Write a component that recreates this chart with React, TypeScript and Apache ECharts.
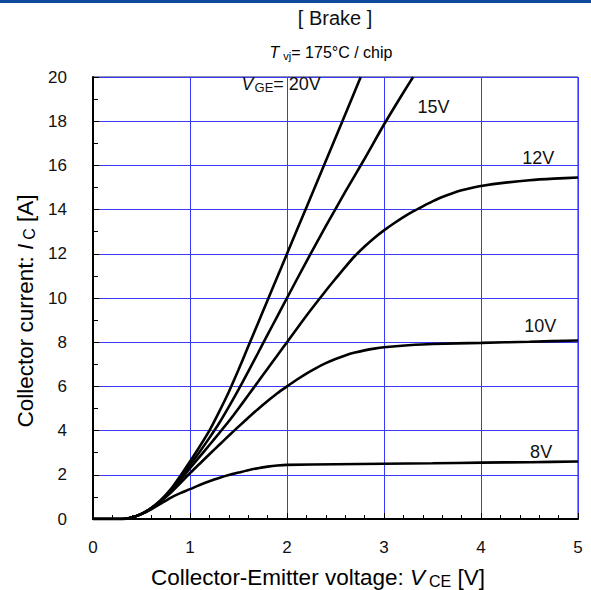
import React, { useEffect, useRef } from 'react';
import * as echarts from 'echarts';

const FONT = '"Liberation Sans", Arial, sans-serif';

// Axis ranges / tick definitions
const X_MIN = 0;
const X_MAX = 5;
const X_STEP = 1;
const Y_MIN = 0;
const Y_MAX = 20;
const Y_STEP = 2;

// Output characteristic curves: [VCE (V), IC (A)]
const curve8V: number[][] = [
  [0, 0], [0.3, 0], [0.4, 0.07], [0.5, 0.22], [0.6, 0.44], [0.7, 0.7], [0.8, 0.96],
  [0.9, 1.17], [1.0, 1.35], [1.1, 1.54], [1.2, 1.71], [1.3, 1.86], [1.4, 1.99],
  [1.5, 2.1], [1.6, 2.21], [1.7, 2.3], [1.8, 2.37], [1.9, 2.42], [2.0, 2.45],
  [2.5, 2.48], [3.0, 2.5], [3.5, 2.52], [4.0, 2.55], [4.5, 2.57], [5.0, 2.6],
];
const curve10V: number[][] = [
  [0, 0], [0.3, 0], [0.4, 0.07], [0.5, 0.23], [0.6, 0.47], [0.7, 0.8], [0.8, 1.18],
  [0.9, 1.62], [1.0, 2.08], [1.1, 2.5], [1.2, 2.93], [1.3, 3.35], [1.4, 3.77],
  [1.5, 4.18], [1.6, 4.58], [1.7, 4.97], [1.8, 5.34], [1.9, 5.69], [2.0, 6.0],
  [2.1, 6.3], [2.2, 6.58], [2.3, 6.83], [2.4, 7.05], [2.5, 7.24], [2.6, 7.4],
  [2.7, 7.53], [2.8, 7.63], [2.9, 7.71], [3.0, 7.77], [3.25, 7.86],
  [3.5, 7.92], [4.0, 7.97], [4.5, 8.02], [5.0, 8.08],
];
const curve12V: number[][] = [
  [0, 0], [0.3, 0], [0.4, 0.07], [0.5, 0.23], [0.6, 0.48], [0.7, 0.82], [0.8, 1.24],
  [0.9, 1.76], [1.0, 2.3], [1.1, 2.82], [1.2, 3.35], [1.3, 3.88], [1.4, 4.42],
  [1.5, 5.0], [1.6, 5.6], [1.7, 6.2], [1.8, 6.8], [1.9, 7.4], [2.0, 8.0],
  [2.2, 9.2], [2.4, 10.33], [2.5, 10.87], [2.6, 11.4], [2.7, 11.9], [2.8, 12.33],
  [2.9, 12.72], [3.0, 13.06], [3.1, 13.37], [3.2, 13.66], [3.3, 13.92],
  [3.4, 14.15], [3.5, 14.37], [3.6, 14.57], [3.7, 14.73], [3.8, 14.87],
  [3.9, 14.98], [4.0, 15.07], [4.25, 15.22], [4.5, 15.33], [4.75, 15.4], [5.0, 15.45],
];
const curve15V: number[][] = [
  [0, 0], [0.3, 0], [0.4, 0.07], [0.5, 0.23], [0.6, 0.49], [0.7, 0.84], [0.8, 1.28],
  [0.9, 1.84], [1.0, 2.44], [1.1, 3.04], [1.2, 3.67], [1.3, 4.33], [1.4, 5.07],
  [1.5, 5.85], [1.6, 6.67], [1.7, 7.5], [1.8, 8.34], [1.9, 9.17], [2.0, 10.0],
  [2.2, 11.65], [2.4, 13.25], [2.6, 14.8], [2.8, 16.3], [3.0, 17.85], [3.2, 19.3],
  [3.3, 20.0],
];
const curve20V: number[][] = [
  [0, 0], [0.3, 0], [0.4, 0.07], [0.5, 0.23], [0.6, 0.5], [0.7, 0.86], [0.8, 1.34],
  [0.9, 1.95], [1.0, 2.6], [1.1, 3.28], [1.2, 4.0], [1.3, 4.85], [1.4, 5.75],
  [1.5, 6.75], [1.6, 7.8], [1.7, 8.85], [1.8, 9.9], [1.9, 10.95], [2.0, 12.0],
  [2.2, 14.1], [2.4, 16.2], [2.6, 18.3], [2.76, 20.0],
];

const curves = [curve8V, curve10V, curve12V, curve15V, curve20V];
const curveNames = ['8V', '10V', '12V', '15V', '20V'];

// Curve annotations (data coordinates)
const labelX = [1.94, 3.51, 4.59, 4.61, 4.62];
const labelY = [19.7, 18.65, 16.35, 8.73, 3.05];
const labelText = ['{it|V}{sub|GE}{n|= 20V}', '{n|15V}', '{n|12V}', '{n|10V}', '{n|8V}'];

const titleText = '[ Brake ]';
const subtitleRich = '{it|T}{sub|vj}{n|= 175°C / chip}';
const xName = '{n|Collector-Emitter voltage: }{it|V}{sub|CE}{n| [V]}';
const yName = '{n|Collector current: }{it|I}{sub|C}{n| [A]}';

export default function App() {
  const ref = useRef<HTMLDivElement>(null);
  useEffect(() => {
    if (!ref.current) return;
    const chart = echarts.init(ref.current, undefined, { renderer: 'svg' });
    const rich16 = {
      n: { fontSize: 16, fontFamily: FONT, color: '#111' },
      it: { fontSize: 16, fontFamily: FONT, fontStyle: 'italic', color: '#111' },
      sub: { fontSize: 11, fontFamily: FONT, color: '#111', padding: [7, 0, 0, 4] },
    };
    const rich18 = {
      n: { fontSize: 18, fontFamily: FONT, color: '#111' },
      it: { fontSize: 18, fontFamily: FONT, fontStyle: 'italic', color: '#111' },
      sub: { fontSize: 13, fontFamily: FONT, color: '#111', padding: [7, 0, 0, 1] },
    };
    const rich23 = {
      n: { fontSize: 22.5, fontFamily: FONT, color: '#111' },
      it: { fontSize: 22.5, fontFamily: FONT, fontStyle: 'italic', color: '#111' },
      sub: { fontSize: 16, fontFamily: FONT, color: '#111', padding: [8, 0, 0, 4] },
    };
    const option: any = {
      animation: false,
      backgroundColor: '#fff',
      grid: {
        left: 93, right: 13, top: 77, bottom: 71,
        show: true, borderColor: '#20205a', borderWidth: 1, backgroundColor: 'transparent',
      },
      graphic: [
        { type: 'rect', left: 0, top: 0, shape: { x: 0, y: 0, width: 591, height: 3 }, style: { fill: '#0d4a9c' }, silent: true },
        {
          type: 'text', x: 335, y: 18,
          style: { text: titleText, fontSize: 20, fontFamily: FONT, fill: '#111', align: 'center', verticalAlign: 'middle' },
        },
        {
          type: 'text', x: 331, y: 52,
          style: { text: subtitleRich, rich: rich16, align: 'center', verticalAlign: 'middle' },
        },
        {
          type: 'text', x: 318, y: 577,
          style: { text: xName, rich: rich23, align: 'center', verticalAlign: 'middle' },
        },
        {
          type: 'text', x: 25, y: 311, rotation: Math.PI / 2,
          style: { text: yName, rich: rich23, align: 'center', verticalAlign: 'middle' },
        },
      ],
      xAxis: {
        type: 'value', min: X_MIN, max: X_MAX, interval: X_STEP,
        axisLine: { show: true, onZero: false, lineStyle: { color: '#000', width: 2 } },
        axisTick: { show: true, inside: true, length: 6, lineStyle: { color: '#000', width: 1 } },
        minorTick: { show: true, splitNumber: 5, length: 4, lineStyle: { color: '#000', width: 1 } },
        axisLabel: { fontSize: 17, fontFamily: FONT, color: '#111', margin: 20 },
        splitLine: { show: true, lineStyle: { color: '#3a3aff', width: 1 } },
      },
      yAxis: {
        type: 'value', min: Y_MIN, max: Y_MAX, interval: Y_STEP,
        axisLine: { show: true, onZero: false, lineStyle: { color: '#000', width: 2 } },
        axisTick: { show: true, inside: true, length: 6, lineStyle: { color: '#000', width: 1 } },
        minorTick: { show: true, splitNumber: 2, length: 5, lineStyle: { color: '#000', width: 1 } },
        axisLabel: { fontSize: 17, fontFamily: FONT, color: '#111', margin: 26 },
        splitLine: { show: true, lineStyle: { color: '#3a3aff', width: 1 } },
      },
      series: [
        ...curves.map((d, k) => ({
          name: curveNames[k],
          type: 'line',
          data: d,
          showSymbol: false,
          smooth: 0.25,
          lineStyle: { color: '#000', width: 2.6 },
          silent: true,
          clip: true,
          z: 3,
        })),
        {
          type: 'scatter',
          symbolSize: 0,
          silent: true,
          itemStyle: { opacity: 1 },
          data: labelX.map((x, k) => ({ value: [x, labelY[k]], label: { formatter: labelText[k] } })),
          label: {
            show: true, position: 'inside', fontSize: 18, fontFamily: FONT, color: '#111',
            opacity: 1, rich: rich18,
          },
          z: 4,
        },
      ],
    };
    chart.setOption(option);
    return () => chart.dispose();
  }, []);
  return (
    <div
      ref={ref}
      style={{ position: 'fixed', left: 0, top: 0, width: 591, height: 590, background: '#fff' }}
    />
  );
}
